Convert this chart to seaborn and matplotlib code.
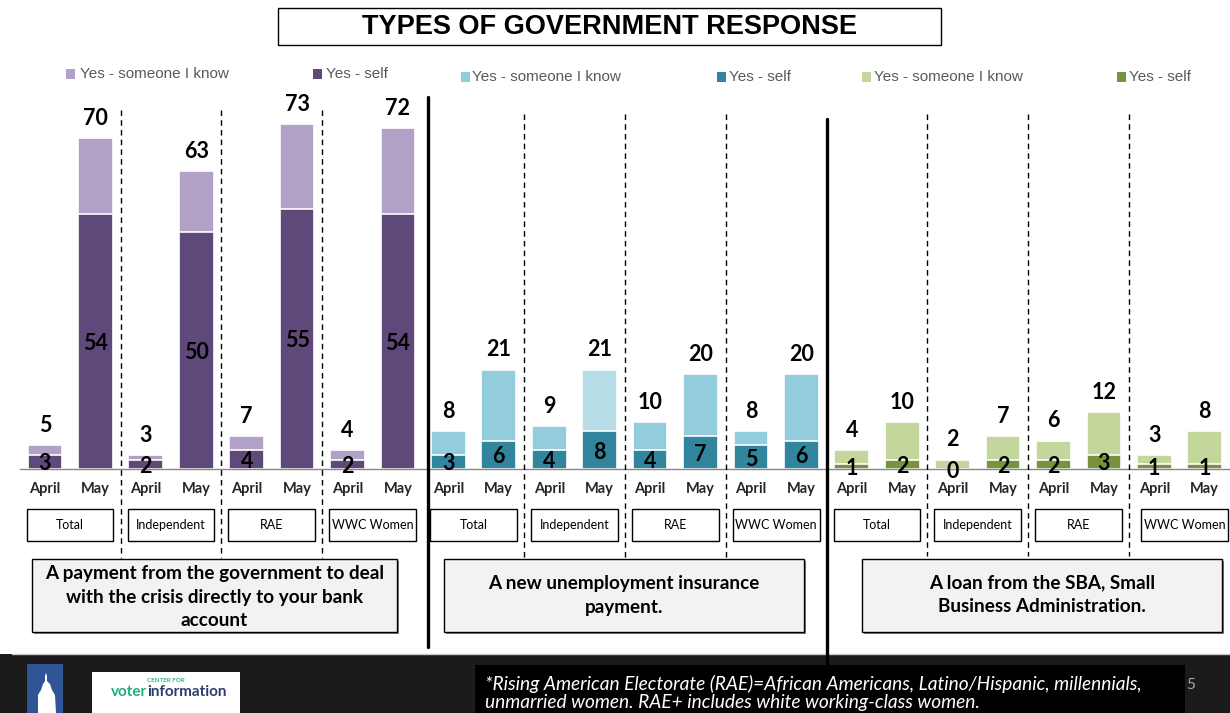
import matplotlib
matplotlib.use("Agg")
import matplotlib.pyplot as plt
import seaborn as sns
import pandas as pd
from matplotlib.patches import Rectangle, Polygon
from matplotlib.lines import Line2D
from matplotlib.transforms import blended_transform_factory

# ---------------- data ----------------
groups = ["Total", "Independent", "RAE", "WWC Women"]
months = ["April", "May"]
responses = [
    "A payment from the government to deal\nwith the crisis directly to your bank\naccount",
    "A new unemployment insurance\npayment.",
    "A loan from the SBA, Small\nBusiness Administration.",
]
series_names = ["Yes - someone I know", "Yes - self"]

# order: Total April, Total May, Independent April, Independent May, RAE April, RAE May, WWC April, WWC May
pay_total = [5, 70, 3, 63, 7, 73, 4, 72]
pay_self = [3, 54, 2, 50, 4, 55, 2, 54]
ui_total = [8, 21, 9, 21, 10, 20, 8, 20]
ui_self = [3, 6, 4, 8, 4, 7, 5, 6]
sba_total = [4, 10, 2, 7, 6, 12, 3, 8]
sba_self = [1, 2, 0, 2, 2, 3, 1, 1]

title = "TYPES OF GOVERNMENT RESPONSE"
footnote = ("*Rising American Electorate (RAE)=African Americans, Latino/Hispanic, millennials,\n"
            "unmarried women. RAE+ includes white working-class women.")

# ---------------- styling ----------------
sns.set_style("white")
plt.rcParams["font.family"] = ["Lato", "DejaVu Sans"]

light_colors = ["#B2A1C7", "#93CDDD", "#C3D69B"]
dark_colors = ["#5F497A", "#31859C", "#77933C"]

totals = [pay_total, ui_total, sba_total]
selfs = [pay_self, ui_self, sba_self]

rows = []
for p in range(3):
    for k in range(8):
        g = groups[k // 2]
        m = months[k % 2]
        light = light_colors[p]
        if p == 1 and g == "Independent" and m == "May":
            light = "#B7DEE8"
        rows.append(dict(slot=f"{p}-{g}-{m}", month=m, total=totals[p][k],
                         self_=selfs[p][k], light=light, dark=dark_colors[p]))
df = pd.DataFrame(rows)
slots = list(df["slot"])

W, H = 1230, 713
def fx(p):
    return p / W
def fy(p):
    return 1 - p / H

fig = plt.figure(figsize=(W / 100, H / 100), dpi=100)
fig.patch.set_facecolor("white")

slot_px0, slot_w = 45.0, 50.6
x_left = -0.5
x_right = (W - slot_px0) / slot_w
ax_left_px = slot_px0 + slot_w * x_left
base_px, top_px = 469.0, 100.0
ppu = 4.73
ax = fig.add_axes([fx(ax_left_px), fy(base_px), fx(W) - fx(ax_left_px), (base_px - top_px) / H])
ax.set_facecolor("none")

sns.barplot(data=df, x="slot", y="total", hue="slot", order=slots, hue_order=slots,
            palette=dict(zip(df["slot"], df["light"])), width=0.69, saturation=1,
            errorbar=None, legend=False, edgecolor="white", linewidth=1.2, ax=ax)
sns.barplot(data=df, x="slot", y="self_", hue="slot", order=slots, hue_order=slots,
            palette=dict(zip(df["slot"], df["dark"])), width=0.69, saturation=1,
            errorbar=None, legend=False, edgecolor="white", linewidth=1.2, ax=ax)

ax.set_xlim(x_left, x_right)
ax.set_ylim(0, (base_px - top_px) / ppu)

for i, r in df.iterrows():
    ax.annotate(str(r["total"]), (i, r["total"]), xytext=(0, 9.5), textcoords="offset points",
                ha="center", va="baseline", fontsize=15.5, fontweight="bold", color="black")
    ax.text(i, r["self_"] / 2, str(r["self_"]), ha="center", va="center_baseline",
            fontsize=15.5, fontweight="bold", color="black")

for s in ["top", "left", "right"]:
    ax.spines[s].set_visible(False)
ax.spines["bottom"].set_color("#868686")
ax.spines["bottom"].set_linewidth(1.0)
ax.set_yticks([])
ax.set_xticks(range(len(slots)))
ax.set_xticklabels(list(df["month"]), fontsize=10.5, fontweight="bold")
ax.tick_params(axis="x", which="major", length=0, pad=9)
ax.set_xticks([i + 0.5 for i in range(-1, len(slots))], minor=True)
ax.tick_params(axis="x", which="minor", length=3.5, color="#868686", width=1)
ax.set_xlabel("")
ax.set_ylabel("")

trans = blended_transform_factory(ax.transData, fig.transFigure)

# dashed separators between groups
dash_extent = [(110, 558), (114, 565), (114, 556)]
for p in range(3):
    for b in [1.5, 3.5, 5.5]:
        xb = 8 * p + b
        y0, y1 = dash_extent[p]
        fig.add_artist(Line2D([xb, xb], [fy(y0), fy(y1)], transform=trans, color="black",
                              lw=1.0, linestyle=(0, (4, 3)), zorder=5))

# thick panel separators
fig.add_artist(Line2D([7.6, 7.6], [fy(97), fy(647)], transform=trans, color="black", lw=2.4, zorder=6))
fig.add_artist(Line2D([15.5, 15.5], [fy(119), fy(667)], transform=trans, color="black", lw=2.4, zorder=12))

# group label boxes
for p in range(3):
    for gi, g in enumerate(groups):
        cx = 8 * p + 2 * gi + 0.5
        if p == 2 and gi == 3:
            cx += 0.1
        fig.add_artist(Rectangle((cx - 0.86, fy(541)), 1.72, 32 / H, transform=trans,
                                 facecolor="white", edgecolor="black", lw=1.0, zorder=6))
        fig.text(cx, fy(525), g, transform=trans, ha="center", va="center", fontsize=9,
                 color="black", zorder=7)

# legends
leg_specs = [
    (0, 66, 80, 313, 326, 74),
    (1, 461, 472, 717, 729, 77),
    (2, 862, 874, 1117, 1129, 77),
]
for p, sq1, tx1, sq2, tx2, yc in leg_specs:
    for sq, tx, col, name in [(sq1, tx1, light_colors[p], series_names[0]),
                              (sq2, tx2, dark_colors[p], series_names[1])]:
        fig.add_artist(Rectangle((fx(sq), fy(yc + 4.5)), 9 / W, 9 / H, transform=fig.transFigure,
                                 facecolor=col, edgecolor="none"))
        fig.text(fx(tx), fy(yc), name, ha="left", va="center", fontsize=11,
                 color="#595959", family=["Liberation Sans", "DejaVu Sans"])

# title
fig.add_artist(Rectangle((fx(278), fy(45)), (941 - 278) / W, 37 / H, transform=fig.transFigure,
                         facecolor="white", edgecolor="black", lw=1.0))
fig.text(fx(610), fy(26.5), title, ha="center", va="center", fontsize=19.5, fontweight="bold",
         family=["Liberation Sans", "DejaVu Sans"], color="black")

# description boxes
desc_boxes = [(32, 397, 559, 632), (444, 804, 559, 632), (862, 1222, 559, 632)]
for (x0, x1, y0, y1), txt in zip(desc_boxes, responses):
    fig.add_artist(Rectangle((fx(x0 + 2), fy(y1 + 2)), (x1 - x0) / W, (y1 - y0) / H,
                             transform=fig.transFigure, facecolor="#7f7f7f", edgecolor="none", zorder=6))
    fig.add_artist(Rectangle((fx(x0), fy(y1)), (x1 - x0) / W, (y1 - y0) / H,
                             transform=fig.transFigure, facecolor="#F2F2F2", edgecolor="black",
                             lw=1.0, zorder=7))
    nlines = txt.count("\n") + 1
    yc = 597 if nlines == 3 else 595
    fig.text(fx((x0 + x1) / 2), fy(yc), txt, ha="center", va="center", fontsize=13.6,
             fontweight="bold", linespacing=1.5, color="black", zorder=8)

# footer
fig.add_artist(Rectangle((0, 0), 1, (H - 654) / H, transform=fig.transFigure,
                         facecolor="#1b1b1b", edgecolor="none", zorder=9))
fig.add_artist(Line2D([fx(12), 1], [fy(654), fy(654)], transform=fig.transFigure,
                      color="#c8c8c8", lw=1.0, zorder=9))
# logo: capitol block
fig.add_artist(Rectangle((fx(27), 0), 36 / W, (H - 664) / H, transform=fig.transFigure,
                         facecolor="#2F5597", edgecolor="none", zorder=10))
dome = [(38, 713), (38, 695), (41, 690), (43, 684), (45, 681), (45, 676), (46, 673),
        (47, 676), (47, 681), (50, 684), (52, 690), (55, 695), (56, 713)]
fig.add_artist(Polygon([(fx(a), fy(b)) for a, b in dome], closed=True, transform=fig.transFigure,
                       facecolor="white", edgecolor="none", zorder=11))
fig.add_artist(Rectangle((fx(92), 0), (240 - 92) / W, (H - 672) / H, transform=fig.transFigure,
                         facecolor="white", edgecolor="none", zorder=10))
fig.text(fx(166), fy(680), "CENTER FOR", ha="center", va="center", fontsize=4.5,
         color="#27b38f", fontweight="bold", zorder=11)
fig.text(fx(147), fy(692), "voter", ha="right", va="center", fontsize=11,
         color="#1fae84", fontweight="bold", zorder=11)
fig.text(fx(147), fy(692), "information", ha="left", va="center", fontsize=11,
         color="#2c3e70", fontweight="bold", zorder=11)

# footnote
fig.add_artist(Rectangle((fx(475), 0), (1185 - 475) / W, (H - 665) / H, transform=fig.transFigure,
                         facecolor="black", edgecolor="none", zorder=10))
fig.text(fx(485), fy(693), footnote, ha="left", va="center", fontsize=13.8, style="italic",
         color="white", linespacing=1.05, zorder=13)
fig.text(fx(1191), fy(685), "5", ha="center", va="center", fontsize=11, color="#a6a6a6", zorder=13)

fig.savefig("out.png", dpi=100, facecolor="white")
